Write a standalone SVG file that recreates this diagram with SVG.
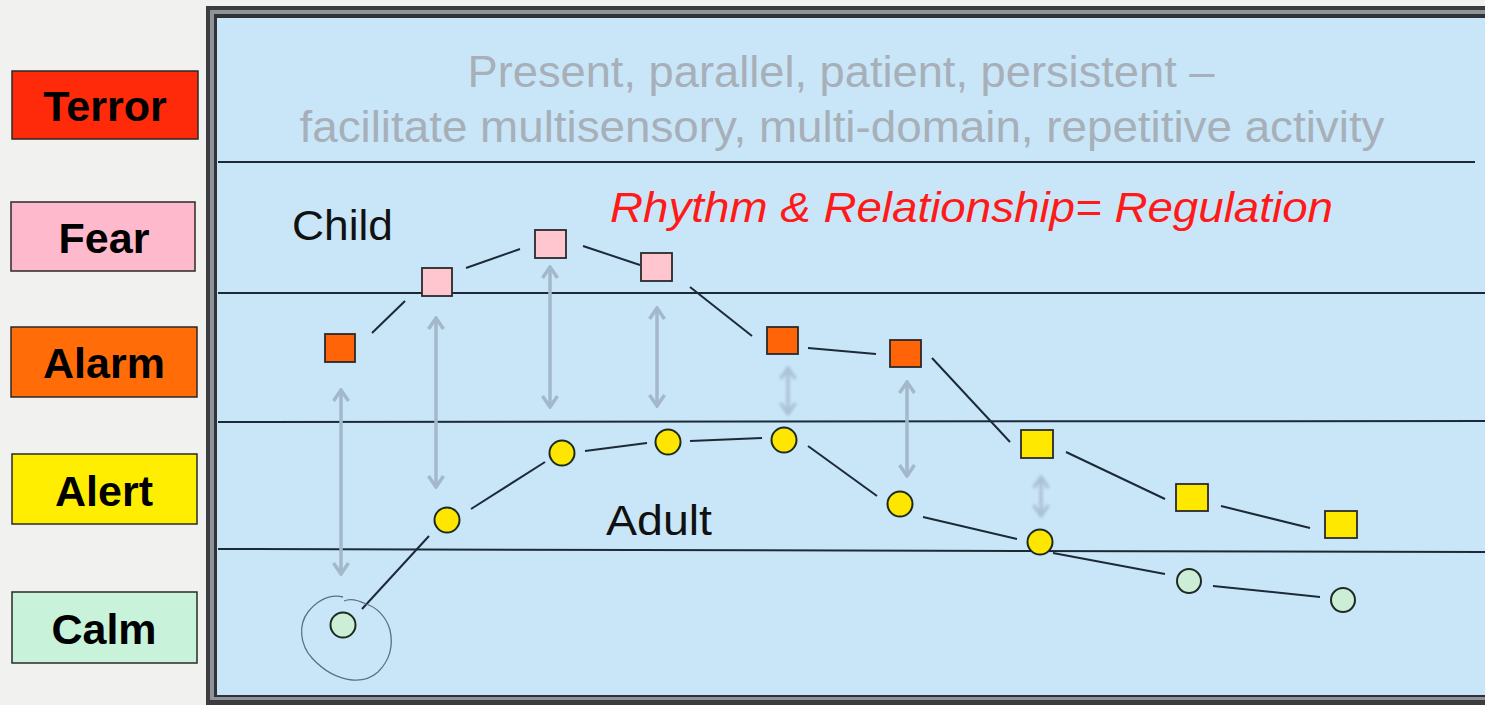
<svg xmlns="http://www.w3.org/2000/svg" width="1485" height="705" viewBox="0 0 1485 705">
  <defs>
    <style>
      .lvl { stroke: #2a2a2a; stroke-width: 1.5; }
      .lvl-text { font-family: "Liberation Sans", Arial, sans-serif; font-weight: bold; font-size: 43px; fill: #000; text-anchor: middle; }
      .band { stroke: #1c2a38; stroke-width: 2; }
      .link { stroke: #1c2a38; stroke-width: 2; fill: none; }
      .sq { stroke: #2a2a2a; stroke-width: 1.8; }
      .dot { stroke: #1c2a20; stroke-width: 2; }
      .pair { stroke: #a3b8ca; stroke-width: 3.5; fill: none; marker-start: url(#chev); marker-end: url(#chev); }
      .faint { opacity: 0.8; filter: url(#soft); }
      .note { font-family: "Liberation Sans", Arial, sans-serif; font-size: 44px; fill: #a7afb8; text-anchor: middle; }
      .tag { font-family: "Liberation Sans", Arial, sans-serif; font-size: 42px; fill: #111; }
    </style>
    <marker id="chev" viewBox="0 0 16 18" refX="14" refY="9" markerWidth="16" markerHeight="18" markerUnits="userSpaceOnUse" orient="auto-start-reverse">
      <path d="M3,1.5 L14,9 L3,16.5" fill="none" stroke="#a3b8ca" stroke-width="3.5"/>
    </marker>
    <filter id="soft" filterUnits="userSpaceOnUse" x="700" y="340" width="400" height="200">
      <feGaussianBlur stdDeviation="1.6"/>
    </filter>
  </defs>

  <!-- page -->
  <rect x="0" y="0" width="1485" height="705" fill="#f1f1ef"/>

  <!-- arousal scale -->
  <g id="level-terror">
    <rect class="lvl" x="12" y="71" width="186" height="68" fill="#ff2a0a"/>
    <text class="lvl-text" x="105" y="121">Terror</text>
  </g>
  <g id="level-fear">
    <rect class="lvl" x="11" y="202" width="184" height="69" fill="#ffb9cc"/>
    <text class="lvl-text" x="104" y="253">Fear</text>
  </g>
  <g id="level-alarm">
    <rect class="lvl" x="11" y="327" width="186" height="70" fill="#ff6c08"/>
    <text class="lvl-text" x="104" y="378">Alarm</text>
  </g>
  <g id="level-alert">
    <rect class="lvl" x="12" y="454" width="185" height="70" fill="#ffee00"/>
    <text class="lvl-text" x="104" y="506">Alert</text>
  </g>
  <g id="level-calm">
    <rect class="lvl" x="12" y="592" width="185" height="71" fill="#c8f2da"/>
    <text class="lvl-text" x="104" y="644">Calm</text>
  </g>

  <!-- framed panel -->
  <g id="panel">
    <rect x="206" y="6" width="1300" height="705" fill="#3b3d40"/>
    <rect x="210" y="10" width="1300" height="690" fill="#8f9297"/>
    <rect x="214" y="14" width="1300" height="683" fill="#2f3338"/>
    <rect x="217" y="18" width="1300" height="677" fill="#c9e6f8"/>
    <line class="band" x1="218" y1="162" x2="1475" y2="162"/>
    <line class="band" x1="218" y1="293" x2="1485" y2="293"/>
    <line class="band" x1="218" y1="422" x2="1485" y2="421"/>
    <line class="band" x1="218" y1="549" x2="1485" y2="552"/>
  </g>

  <!-- headings -->
  <g id="heading">
    <text class="note" x="841" y="87" textLength="747" lengthAdjust="spacingAndGlyphs">Present, parallel, patient, persistent –</text>
    <text class="note" x="842" y="142" textLength="1085" lengthAdjust="spacingAndGlyphs">facilitate multisensory, multi-domain, repetitive activity</text>
    <text x="610" y="222" textLength="723" lengthAdjust="spacingAndGlyphs" font-family="'Liberation Sans', Arial, sans-serif" font-size="43" font-style="italic" fill="#ff1a1a">Rhythm &amp; Relationship= Regulation</text>
  </g>
  <g id="label-child"><text class="tag" x="292" y="240" textLength="101" lengthAdjust="spacingAndGlyphs">Child</text></g>
  <g id="label-adult"><text class="tag" x="606" y="535" textLength="106" lengthAdjust="spacingAndGlyphs">Adult</text></g>

  <!-- connectors -->
  <g id="connectors">
    <!-- child trace -->
    <line class="link" x1="372" y1="333" x2="405" y2="301"/>
    <line class="link" x1="466" y1="268" x2="520" y2="249"/>
    <line class="link" x1="583" y1="246" x2="640" y2="265"/>
    <line class="link" x1="690" y1="287" x2="752" y2="336"/>
    <line class="link" x1="808" y1="348" x2="876" y2="354"/>
    <line class="link" x1="932" y1="358" x2="1010" y2="442"/>
    <line class="link" x1="1066" y1="452" x2="1165" y2="499"/>
    <line class="link" x1="1221" y1="506" x2="1310" y2="528"/>
    <!-- adult trace -->
    <line class="link" x1="362" y1="609" x2="429" y2="536"/>
    <line class="link" x1="471" y1="509" x2="545" y2="462"/>
    <line class="link" x1="585" y1="451" x2="647" y2="443"/>
    <line class="link" x1="690" y1="441" x2="762" y2="438"/>
    <line class="link" x1="808" y1="446" x2="877" y2="496"/>
    <line class="link" x1="923" y1="517" x2="1017" y2="539"/>
    <line class="link" x1="1053" y1="553" x2="1165" y2="574"/>
    <line class="link" x1="1213" y1="586" x2="1320" y2="597"/>
    <!-- attunement pairs -->
    <line class="pair" x1="341" y1="390" x2="341" y2="574"/>
    <line class="pair" x1="436" y1="318" x2="436" y2="487"/>
    <line class="pair" x1="550" y1="267" x2="550" y2="407"/>
    <line class="pair" x1="657" y1="308" x2="657" y2="406"/>
    <line class="pair faint" x1="788" y1="368" x2="788" y2="414"/>
    <line class="pair" x1="907" y1="382" x2="907" y2="476"/>
    <line class="pair faint" x1="1041" y1="477" x2="1041" y2="516"/>
    <!-- hand-drawn loop around the starting point -->
    <path d="M343,597 C330,594 318,600 308,612 C298,625 300,645 312,658 C322,669 335,678 352,680 C362,681 370,679 378,672 C388,662 394,648 390,630 C386,616 376,607 366,604 C358,600 350,598 344,601" fill="none" stroke="#5b7182" stroke-width="1.3"/>
  </g>

  <!-- child states -->
  <g id="child-1"><rect class="sq" x="325" y="334" width="30" height="28" fill="#ff6408"/></g>
  <g id="child-2"><rect class="sq" x="422" y="268" width="30" height="28" fill="#ffc6cf"/></g>
  <g id="child-3"><rect class="sq" x="535" y="230" width="31" height="28" fill="#ffc6cf"/></g>
  <g id="child-4"><rect class="sq" x="641" y="253" width="31" height="28" fill="#ffc6cf"/></g>
  <g id="child-5"><rect class="sq" x="767" y="327" width="31" height="27" fill="#ff6408"/></g>
  <g id="child-6"><rect class="sq" x="890" y="340" width="31" height="27" fill="#ff6408"/></g>
  <g id="child-7"><rect class="sq" x="1021" y="430" width="32" height="28" fill="#ffe800"/></g>
  <g id="child-8"><rect class="sq" x="1176" y="484" width="32" height="27" fill="#ffe800"/></g>
  <g id="child-9"><rect class="sq" x="1325" y="511" width="32" height="27" fill="#ffe800"/></g>

  <!-- adult states -->
  <g id="adult-1"><circle class="dot" cx="343" cy="625" r="12.5" fill="#cdeed6"/></g>
  <g id="adult-2"><circle class="dot" cx="447" cy="520" r="12.5" fill="#ffe600"/></g>
  <g id="adult-3"><circle class="dot" cx="562" cy="453" r="12.5" fill="#ffe600"/></g>
  <g id="adult-4"><circle class="dot" cx="668" cy="442" r="12.5" fill="#ffe600"/></g>
  <g id="adult-5"><circle class="dot" cx="784" cy="440" r="12.5" fill="#ffe600"/></g>
  <g id="adult-6"><circle class="dot" cx="900" cy="504" r="12.5" fill="#ffe600"/></g>
  <g id="adult-7"><circle class="dot" cx="1040" cy="542" r="12.5" fill="#ffe600"/></g>
  <g id="adult-8"><circle class="dot" cx="1189" cy="581" r="12" fill="#cdeed6"/></g>
  <g id="adult-9"><circle class="dot" cx="1343" cy="600" r="12" fill="#cdeed6"/></g>
</svg>
